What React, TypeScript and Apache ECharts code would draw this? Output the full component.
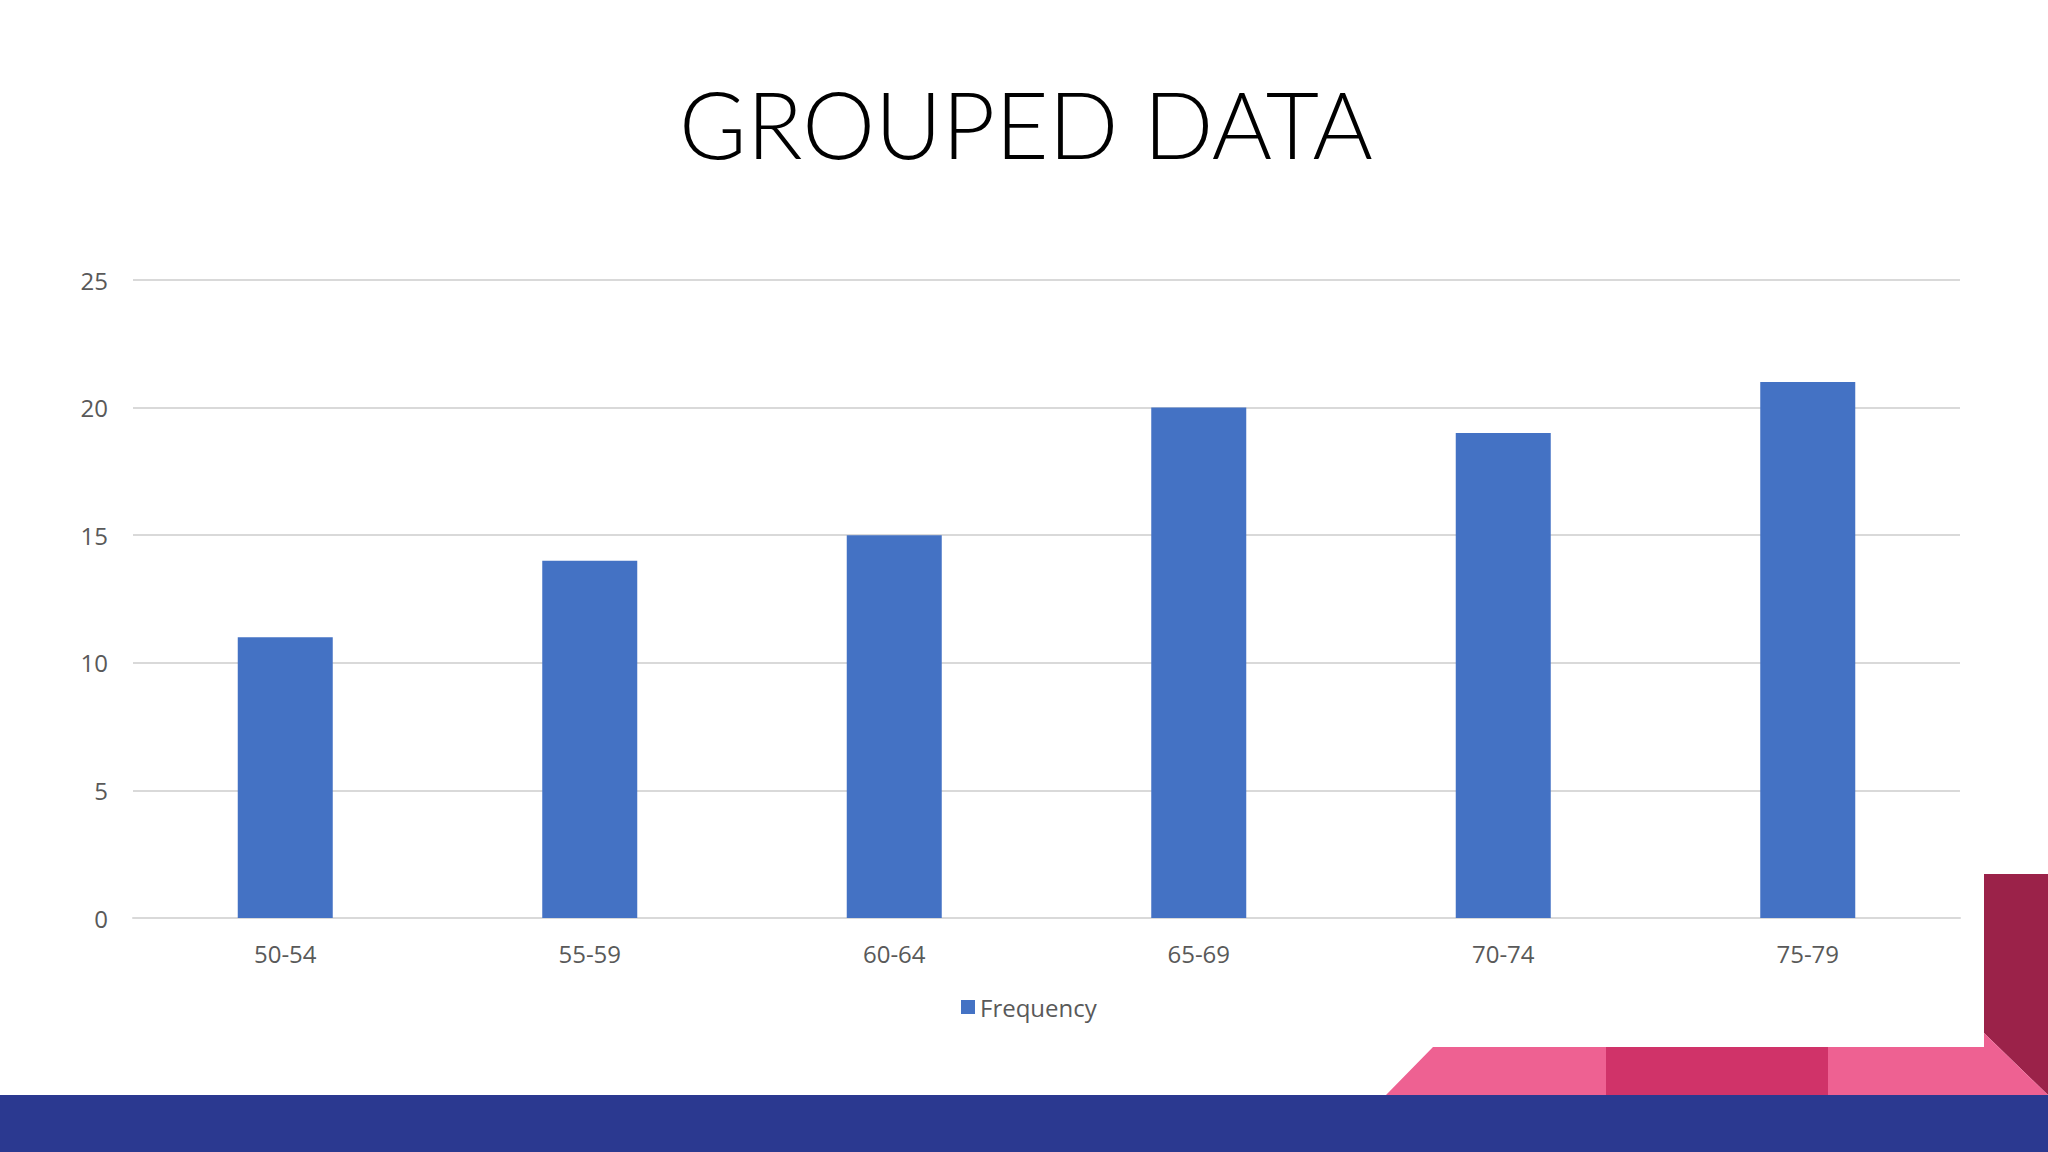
import React, { useEffect, useRef } from "react";
import * as echarts from "echarts";

const categories = ["50-54", "55-59", "60-64", "65-69", "70-74", "75-79"];
const frequency = [11, 14, 15, 20, 19, 21];
const seriesName = "Frequency";
const titleText = "GROUPED DATA";

export default function App() {
  const ref = useRef<HTMLDivElement>(null);
  useEffect(() => {
    if (!ref.current) return;
    const chart = echarts.init(ref.current, null, { renderer: "svg" });
    const labelFont = "'Open Sans', 'Noto Sans', sans-serif";
    chart.setOption({
      animation: false,
      backgroundColor: "#ffffff",
      grid: { left: 133, right: 88, top: 280, bottom: 234, containLabel: false },
      legend: {
        data: [seriesName],
        left: 956,
        top: 990,
        icon: "rect",
        itemWidth: 14,
        itemHeight: 14,
        itemGap: 10,
        textStyle: { fontFamily: labelFont, fontSize: 24, color: "#595959" },
      },
      xAxis: {
        type: "category",
        data: categories,
        axisLine: { show: true, lineStyle: { color: "#D9D9D9", width: 2 } },
        axisTick: { show: false },
        axisLabel: { fontFamily: labelFont, fontSize: 24, color: "#595959", margin: 23 },
      },
      yAxis: {
        type: "value",
        min: 0,
        max: 25,
        interval: 5,
        axisLine: { show: false },
        axisTick: { show: false },
        splitLine: { lineStyle: { color: "#D9D9D9", width: 2 } },
        axisLabel: { fontFamily: labelFont, fontSize: 24, color: "#595959", margin: 25 },
      },
      series: [
        {
          name: seriesName,
          type: "bar",
          data: frequency,
          barWidth: 95,
          itemStyle: { color: "#4472C4" },
        },
      ],
      graphic: [
        {
          type: "text",
          x: 1026,
          y: 123,
          style: {
            text: titleText,
            fontFamily: "Lato, 'Open Sans', sans-serif",
            fontWeight: 300,
            fontSize: 92,
            fill: "#000000",
            textAlign: "center",
            textVerticalAlign: "middle",
          },
        },
        {
          type: "polygon",
          shape: { points: [[1984, 874], [2048, 874], [2048, 1095], [1984, 1033]] },
          style: { fill: "#9B2249" },
        },
        {
          type: "polygon",
          shape: {
            points: [[1433, 1047], [1984, 1047], [1984, 1033], [2048, 1095], [1386, 1095]],
          },
          style: { fill: "#EE6192" },
        },
        {
          type: "rect",
          shape: { x: 1606, y: 1047, width: 222, height: 48 },
          style: { fill: "#D03369" },
        },
        {
          type: "rect",
          shape: { x: 0, y: 1095, width: 2048, height: 57 },
          style: { fill: "#2B3990" },
        },
      ],
    });
    return () => chart.dispose();
  }, []);
  return (
    <div
      ref={ref}
      style={{ position: "fixed", left: 0, top: 0, width: 2048, height: 1152 }}
    />
  );
}
